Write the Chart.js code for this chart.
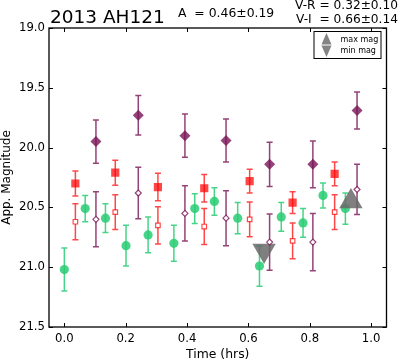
<!DOCTYPE html>
<html>
<head>
<meta charset="utf-8">
<script src="https://cdn.jsdelivr.net/npm/chart.js@4.4.0/dist/chart.umd.min.js"></script>
<style>
html,body{margin:0;padding:0;background:#fff;}
</style>
</head>
<body>
<canvas id="lightCurve" width="400" height="362"></canvas>
<script>

// green circles
const greenTimes = [0.000,0.068,0.134,0.201,0.273,0.357,0.425,0.489,0.565,0.636,0.707,0.778,0.843,0.916];
const greenMags = [21.02,20.51,20.59,20.82,20.73,20.80,20.51,20.45,20.59,20.99,20.58,20.63,20.40,20.51];
const greenErrs = [0.18,0.11,0.12,0.17,0.15,0.15,0.125,0.115,0.13,0.17,0.12,0.12,0.105,0.13];

// red squares (filled and open)
const redTimes = [0.036,0.166,0.305,0.456,0.604,0.744,0.881];
const redMags = [20.30,20.21,20.33,20.34,20.28,20.46,20.22];
const redErrs = [0.105,0.105,0.115,0.115,0.10,0.09,0.10];
const redOpenMags = [20.62,20.54,20.65,20.66,20.60,20.78,20.54];
const redOpenErrs = [0.15,0.145,0.155,0.15,0.145,0.15,0.145];

// purple diamonds (filled and open)
const purpleTimes = [0.103,0.241,0.393,0.527,0.669,0.810,0.954];
const purpleMags = [19.95,19.73,19.90,19.94,20.14,20.14,19.69];
const purpleErrs = [0.18,0.165,0.18,0.18,0.185,0.195,0.155];
const purpleOpenMags = [20.60,20.38,20.55,20.59,20.79,20.79,20.35];
const purpleOpenErrs = [0.23,0.215,0.23,0.23,0.235,0.24,0.21];

// extremes
const maxMagTime = [0.934];
const maxMag = [20.45];
const minMagTime = [0.651];
const minMag = [20.86];

const xTicks = [0.0,0.2,0.4,0.6,0.8,1.0];
const yTicks = [19.0,19.5,20.0,20.5,21.0,21.5];

const FONT = "'DejaVu Sans', sans-serif";

function points(times, mags){
    return times.map((t,i)=>({x:t, y:mags[i]}));
}

const errorBars = {
    id:"errorBars",
    beforeDatasetsDraw(chart){
        const ctx = chart.ctx;
        const xs = chart.scales.x;
        const ys = chart.scales.y;

        chart.data.datasets.forEach(ds=>{
            if(!ds.errors) return;

            ctx.save();
            ctx.strokeStyle = ds.errorColor;
            ctx.lineWidth = 1.5;

            ds.data.forEach((p,i)=>{
                const px = xs.getPixelForValue(p.x);
                const top = ys.getPixelForValue(p.y - ds.errors[i]);
                const bot = ys.getPixelForValue(p.y + ds.errors[i]);
                ctx.beginPath();
                ctx.moveTo(px, top);
                ctx.lineTo(px, bot);
                ctx.moveTo(px - 3, top);
                ctx.lineTo(px + 3, top);
                ctx.moveTo(px - 3, bot);
                ctx.lineTo(px + 3, bot);
                ctx.stroke();
            });
            ctx.restore();
        });
    }
};

const frameAndText = {
    id:"frameAndText",
    afterDraw(chart){
        const ctx = chart.ctx;
        const a = chart.chartArea;
        const xs = chart.scales.x;
        const ys = chart.scales.y;

        ctx.save();
        ctx.strokeStyle = "#000";
        ctx.lineWidth = 1.3;
        ctx.strokeRect(a.left, a.top, a.right - a.left, a.bottom - a.top);

        // inward ticks on all sides
        ctx.lineWidth = 1;
        ctx.beginPath();
        xTicks.forEach(v=>{
            const px = Math.round(xs.getPixelForValue(v)) + 0.5;
            ctx.moveTo(px, a.bottom);
            ctx.lineTo(px, a.bottom - 4);
            ctx.moveTo(px, a.top);
            ctx.lineTo(px, a.top + 4);
        });
        yTicks.forEach(v=>{
            const py = Math.round(ys.getPixelForValue(v)) + 0.5;
            ctx.moveTo(a.left, py);
            ctx.lineTo(a.left + 4, py);
            ctx.moveTo(a.right, py);
            ctx.lineTo(a.right - 4, py);
        });
        ctx.stroke();

        // legend
        const lx = a.right - 73;
        const ly = a.top + 3;
        ctx.lineWidth = 1;
        ctx.strokeRect(lx + 0.5, ly + 0.5, 67, 27);
        ctx.fillStyle = "rgba(110,110,110,0.85)";
        ctx.beginPath();
        ctx.moveTo(lx + 13, ly + 2);
        ctx.lineTo(lx + 18, ly + 13.5);
        ctx.lineTo(lx + 8, ly + 13.5);
        ctx.closePath();
        ctx.fill();
        ctx.beginPath();
        ctx.moveTo(lx + 8, ly + 14.5);
        ctx.lineTo(lx + 18, ly + 14.5);
        ctx.lineTo(lx + 13, ly + 26);
        ctx.closePath();
        ctx.fill();

        ctx.fillStyle = "#000";
        ctx.font = "8px " + FONT;
        ctx.textBaseline = "middle";
        ctx.textAlign = "left";
        ctx.fillText("max mag", lx + 27, ly + 9);
        ctx.fillText("min mag", lx + 27, ly + 20);

        // header texts
        ctx.textBaseline = "alphabetic";
        ctx.font = "18.5px " + FONT;
        ctx.fillText("2013 AH121", 50, 22.7);
        ctx.font = "12.4px " + FONT;
        ctx.fillText("A  = 0.46\u00b10.19", 178, 17.3);
        ctx.textAlign = "right";
        ctx.font = "12.2px " + FONT;
        ctx.fillText("V-R = 0.32\u00b10.10", 398, 8.6);
        ctx.fillText("V-I  = 0.66\u00b10.14", 398, 22.8);
        ctx.restore();
    }
};

const green = "rgba(40,205,115,0.85)";
const red = "rgba(255,0,0,0.72)";
const purple = "rgba(120,20,85,0.8)";
const grey = "rgba(105,105,105,0.85)";

new Chart(document.getElementById("lightCurve"), {
    type:"scatter",
    data:{
        datasets:[
            {
                label:"purple open",
                data:points(purpleTimes, purpleOpenMags),
                errors:purpleOpenErrs,
                errorColor:purple,
                pointStyle:"rectRot",
                pointRadius:3,
                backgroundColor:"#fff",
                borderColor:purple,
                borderWidth:1.2
            },
            {
                label:"purple",
                data:points(purpleTimes, purpleMags),
                errors:purpleErrs,
                errorColor:purple,
                pointStyle:"rectRot",
                pointRadius:5.5,
                backgroundColor:purple,
                borderColor:purple,
                borderWidth:0
            },
            {
                label:"max mag",
                data:points(maxMagTime, maxMag),
                pointStyle:"triangle",
                pointRadius:13.5,
                backgroundColor:grey,
                borderWidth:0
            },
            {
                label:"min mag",
                data:points(minMagTime, minMag),
                pointStyle:"triangle",
                rotation:180,
                pointRadius:13.5,
                backgroundColor:grey,
                borderWidth:0
            },
            {
                label:"red open",
                data:points(redTimes, redOpenMags),
                errors:redOpenErrs,
                errorColor:red,
                pointStyle:"rect",
                pointRadius:3.2,
                backgroundColor:"#fff",
                borderColor:red,
                borderWidth:1.2
            },
            {
                label:"red",
                data:points(redTimes, redMags),
                errors:redErrs,
                errorColor:red,
                pointStyle:"rect",
                pointRadius:5.8,
                backgroundColor:red,
                borderWidth:0
            },
            {
                label:"green",
                data:points(greenTimes, greenMags),
                errors:greenErrs,
                errorColor:green,
                pointStyle:"circle",
                pointRadius:4.6,
                backgroundColor:green,
                borderWidth:0
            }
        ]
    },
    options:{
        responsive:false,
        animation:false,
        events:[],
        layout:{padding:{top:28, right:2, left:0, bottom:0}},
        plugins:{
            legend:{display:false},
            tooltip:{enabled:false}
        },
        scales:{
            x:{
                type:"linear",
                min:-0.05,
                max:1.05,
                grid:{display:false, drawTicks:false},
                border:{display:false},
                afterFit(scale){ scale.height = 35; },
                ticks:{
                    stepSize:0.2,
                    includeBounds:false,
                    padding:5,
                    color:"#000",
                    font:{family:FONT, size:11.7},
                    maxRotation:0,
                    callback:v=>v.toFixed(1)
                },
                title:{
                    display:true,
                    text:"Time (hrs)",
                    color:"#000",
                    font:{family:FONT, size:12.4},
                    padding:{top:0, bottom:0}
                }
            },
            y:{
                type:"linear",
                reverse:true,
                min:19,
                max:21.5,
                grid:{display:false, drawTicks:false},
                border:{display:false},
                afterFit(scale){ scale.width = 49; },
                ticks:{
                    stepSize:0.5,
                    padding:4,
                    color:"#000",
                    font:{family:FONT, size:11.7},
                    callback:v=>v.toFixed(1)
                },
                title:{
                    display:true,
                    text:"App. Magnitude",
                    color:"#000",
                    font:{family:FONT, size:12},
                    padding:{top:0, bottom:0}
                }
            }
        }
    },
    plugins:[errorBars, frameAndText]
});
</script>
</body>
</html>
